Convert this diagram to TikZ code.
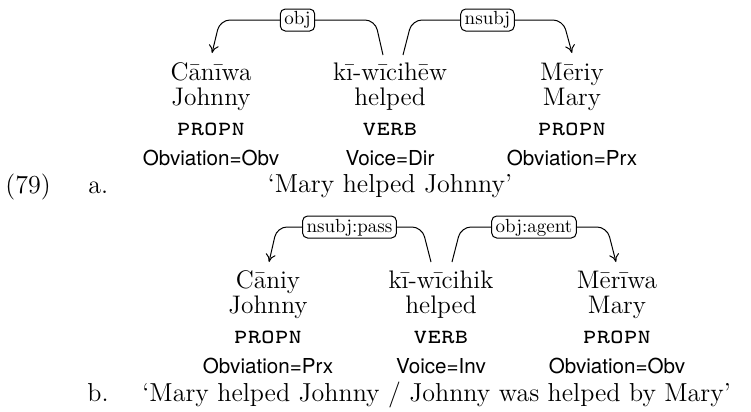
\documentclass[tikz,border=0pt]{standalone}
\usepackage{fontspec}
\setsansfont{TeX Gyre Heros}
\usetikzlibrary{arrows.meta,calc}

\begin{document}
\begin{tikzpicture}[
  x=0.5pt, y=-0.5pt,
  >={To[length=4pt,width=5pt]},
  gloss/.style={anchor=base, inner sep=0pt, font=\fontsize{12.7}{15}\selectfont},
  word/.style={gloss, text depth=0pt},
  upos/.style={anchor=base, inner sep=0pt, font=\fontsize{13}{15}\selectfont\ttfamily\scshape},
  feat/.style={anchor=base, inner sep=0pt, font=\fontsize{10.3}{12}\selectfont\sffamily},
  trans/.style={gloss, font=\fontsize{13}{15}\selectfont},
  dep/.style={->, line width=0.5pt, rounded corners=5pt},
  deplab/.style={draw, line width=0.5pt, fill=white, rounded corners=2.5pt,
    font=\fontsize{9.5}{11}\selectfont, text height=7pt, text depth=2pt,
    inner xsep=2pt, inner ysep=1pt},
]
\useasboundingbox (0,0) rectangle (751,412);

% =================== (79a) ===================
\node[trans, anchor=base west] (num) at (5,193) {(79)};
\node[trans, anchor=base west] (la) at (88,193) {a.};
\foreach \n/\x/\w/\g/\p/\f in {1/211/Cānīwa/Johnny/propn/Obviation=Obv,
    2/390/kī-wīcihēw/helped/verb/Voice=Dir, 3/572/Mēriy/Mary/propn/Obviation=Prx} {
  \node[word] (wa\n) at (\x,80) {\w};
  \node[gloss] (ga\n) at (\x,105) {\g};
  \node[upos] (pa\n) at (\x,135) {\p};
  \node[feat] (fa\n) at (\x,165) {\f};
}
\draw[dep] ($(wa2.base)+(-7,-25)$) -- ($(wa2.base)+(-15,-60)$)
  -- node[deplab]{obj} ($(wa1.base)+(9,-60)$) -- ($(wa1.base)+(1,-27)$);
\draw[dep] ($(wa2.base)+(13,-25)$) -- ($(wa2.base)+(22,-60)$)
  -- node[deplab]{nsubj} ($(wa3.base)+(-9,-60)$) -- ($(wa3.base)+(0,-27)$);
\node[trans] (ta) at (390,192) {‘Mary helped Johnny’};

% =================== (79b) ===================
\foreach \n/\x/\w/\g/\p/\f in {1/268/Cāniy/Johnny/propn/Obviation=Prx,
    2/441/kī-wīcihik/helped/verb/Voice=Inv, 3/617/Mērīwa/Mary/propn/Obviation=Obv} {
  \node[word] (wb\n) at (\x,288) {\w};
  \node[gloss] (gb\n) at (\x,313) {\g};
  \node[upos] (pb\n) at (\x,343) {\p};
  \node[feat] (fb\n) at (\x,373) {\f};
}
\draw[dep] ($(wb2.base)+(-10,-26)$) -- ($(wb2.base)+(-19,-61)$)
  -- node[deplab]{nsubj:pass} ($(wb1.base)+(9,-61)$) -- ($(wb1.base)+(1,-26)$);
\draw[dep] ($(wb2.base)+(11,-26)$) -- ($(wb2.base)+(20,-61)$)
  -- node[deplab]{obj:agent} ($(wb3.base)+(-10,-61)$) -- ($(wb3.base)+(-1,-26)$);
\node[trans, anchor=base west] (lb) at (87,401) {b.};
\node[trans, anchor=base west] (tb) at (142,401) {‘Mary helped Johnny / Johnny was helped by Mary’};
\end{tikzpicture}
\end{document}
